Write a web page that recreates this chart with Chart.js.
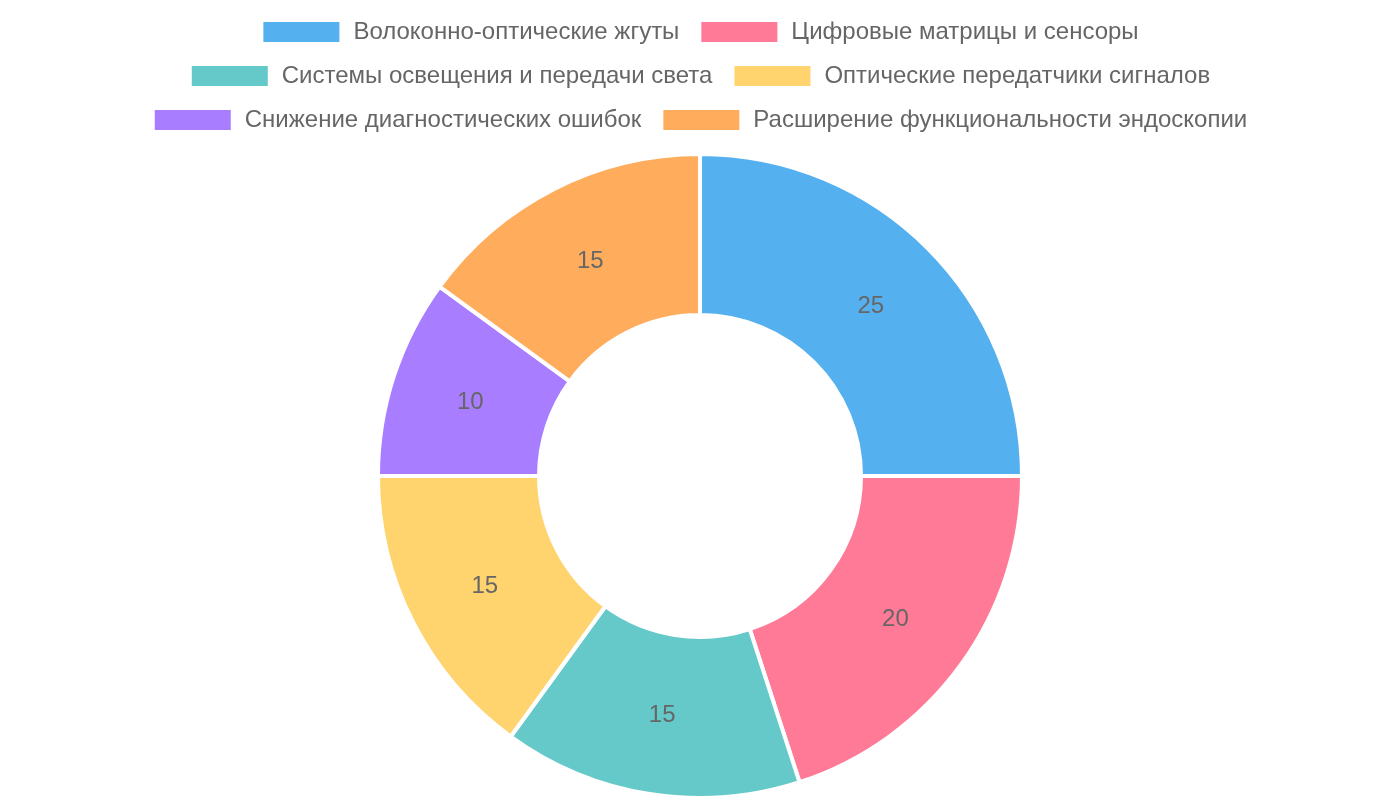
<!DOCTYPE html>
<html>
<head>
<meta charset="utf-8">
<script src="https://cdn.jsdelivr.net/npm/chart.js@4"></script>
<style>
  html, body { margin: 0; padding: 0; background: #fff; }
  #wrap { width: 1400px; height: 800px; }
</style>
</head>
<body>
<div id="wrap"><canvas id="chart"></canvas></div>
<script>
// data
const labels = [
  "Волоконно-оптические жгуты",
  "Цифровые матрицы и сенсоры",
  "Системы освещения и передачи света",
  "Оптические передатчики сигналов",
  "Снижение диагностических ошибок",
  "Расширение функциональности эндоскопии"
];
const values = [25, 20, 15, 15, 10, 15];
const colors = [
  "rgba(54, 162, 235, 0.85)",
  "rgba(255, 99, 132, 0.85)",
  "rgba(75, 192, 192, 0.85)",
  "rgba(255, 205, 86, 0.85)",
  "rgba(153, 102, 255, 0.85)",
  "rgba(255, 159, 64, 0.85)"
];

Chart.defaults.font.family = "'Liberation Sans', Arial, sans-serif";
Chart.defaults.color = "#666";

// a bit more room under the legend
const legendGap = {
  id: "legendGap",
  beforeInit(chart) {
    const fit = chart.legend.fit;
    chart.legend.fit = function () {
      fit.bind(chart.legend)();
      this.height += 10;
    };
  }
};

// draw the value in the middle of each slice
const sliceValues = {
  id: "sliceValues",
  afterDatasetsDraw(chart) {
    const c = chart.ctx;
    const meta = chart.getDatasetMeta(0);
    c.save();
    c.font = "24px 'Liberation Sans', Arial, sans-serif";
    c.fillStyle = "#666";
    c.textAlign = "center";
    c.textBaseline = "middle";
    meta.data.forEach((arc, i) => {
      const p = arc.tooltipPosition();
      c.fillText(values[i], p.x, p.y + 1);
    });
    c.restore();
  }
};

const ctx = document.getElementById("chart").getContext("2d");
new Chart(ctx, {
  type: "doughnut",
  data: {
    labels: labels,
    datasets: [{
      data: values,
      backgroundColor: colors,
      borderColor: "#fff",
      borderWidth: 4
    }]
  },
  options: {
    responsive: true,
    maintainAspectRatio: false,
    animation: false,
    cutout: "50%",
    layout: { padding: { bottom: 0 } },
    plugins: {
      legend: {
        position: "top",
        labels: {
          font: { size: 24 },
          boxWidth: 80,
          padding: 20
        }
      },
      tooltip: { enabled: false }
    }
  },
  plugins: [legendGap, sliceValues]
});
</script>
</body>
</html>
